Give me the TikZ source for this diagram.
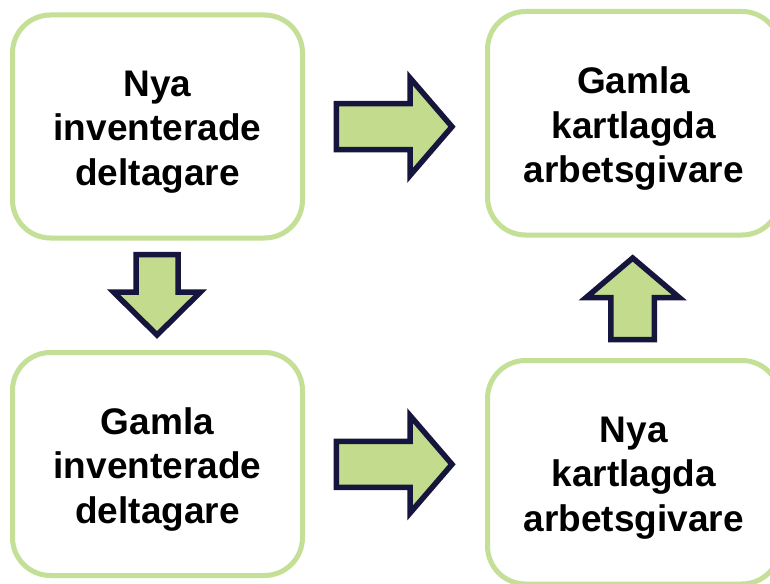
\documentclass[tikz,border=0pt]{standalone}
\usepackage{fontspec}
\setmainfont{Liberation Sans}
\definecolor{boxgreen}{HTML}{C4DF96}
\definecolor{arrowfill}{HTML}{C2DB8C}
\definecolor{arrowline}{HTML}{15153D}
\tikzset{
  box/.style={draw=boxgreen, line width=5pt, rounded corners=38pt, fill=white,
    minimum width=290pt, minimum height=223pt, inner sep=0pt},
  lbl/.style={align=center, font=\fontsize{37}{44.5}\selectfont\bfseries,
    text=black, yshift=-5.5pt, inner sep=0pt},
  arrowshape/.style={draw=arrowline, fill=arrowfill, line width=5.5pt, line join=miter},
  pics/barrow/.style n args={4}{code={
    \draw[arrowshape] (0,-#2) -- (#1,-#2) -- (#1,-#3) -- (#4,0) -- (#1,#3) -- (#1,#2) -- (0,#2) -- cycle;}}
}
\begin{document}
\begin{tikzpicture}[x=1pt,y=-1pt]
\clip (0,0) rectangle (770,583);
\fill[white] (0,0) rectangle (770,583);
% boxes
\node[box] (b1) at (157.5,126.5) {};
\node[box, minimum width=292.5pt, minimum height=223.5pt] (b2) at (633.75,123.25) {};
\node[box] (b3) at (157.5,464) {};
\node[box, minimum width=292.5pt, minimum height=223.5pt] (b4) at (633.75,472.25) {};
% labels
\node[lbl] (t1) at (b1.center) {Nya\\inventerade\\deltagare};
\node[lbl] (t2) at (b2.center) {Gamla\\kartlagda\\arbetsgivare};
\node[lbl] (t3) at (b3.center) {Gamla\\inventerade\\deltagare};
\node[lbl] (t4) at (b4.center) {Nya\\kartlagda\\arbetsgivare};
% block arrows
\coordinate (a1) at (336.3,126.7);
\coordinate (a2) at (157,254.5);
\coordinate (a3) at (336.3,464.3);
\coordinate (a4) at (632.7,339.5);
\pic at (a1) {barrow={73.7}{23}{48.75}{115.7}};
\pic[rotate=-90] at (a2) {barrow={37.5}{21}{43.5}{80.5}};
\pic at (a3) {barrow={73.7}{23}{48.75}{115.7}};
\pic[rotate=90] at (a4) {barrow={42}{21.75}{46.5}{81.5}};
\end{tikzpicture}
\end{document}
